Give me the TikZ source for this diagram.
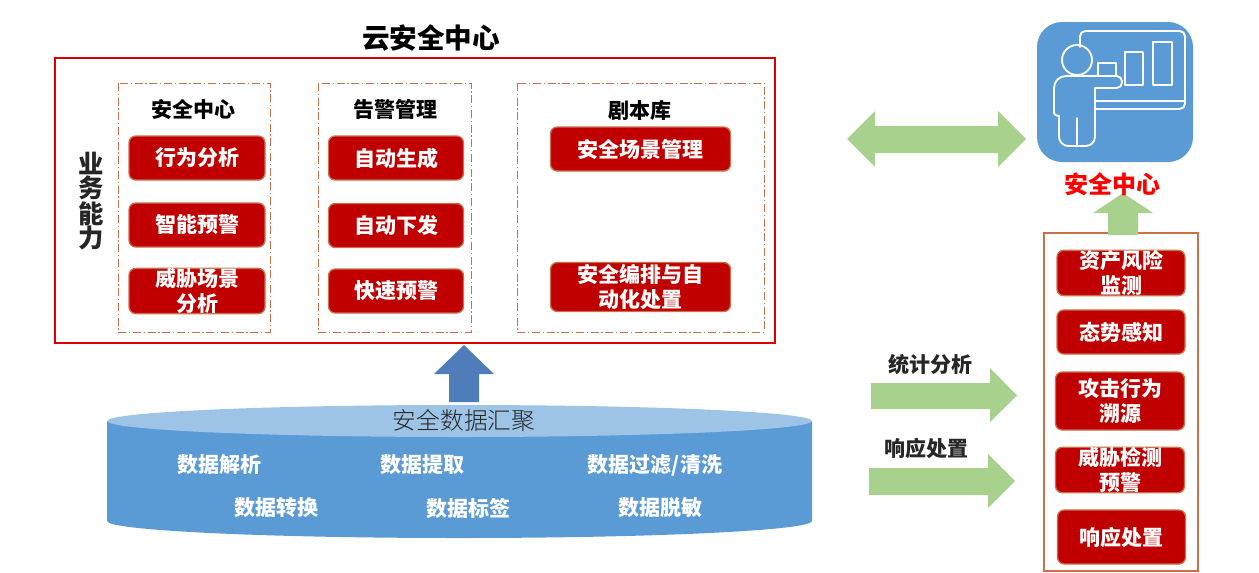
\documentclass[tikz,border=0pt]{standalone}
\usepackage{fontspec}
\setmainfont{Noto Sans CJK SC}
\newfontfamily\cjklight{Noto Sans CJK SC Light}
\definecolor{boxred}{HTML}{C00000}
\definecolor{boxedge}{HTML}{C9714B}
\definecolor{framered}{HTML}{DD0000}
\definecolor{arrowgreen}{HTML}{A9D18E}
\definecolor{cylblue}{HTML}{5B9BD5}
\definecolor{cyltop}{HTML}{9DC3E6}
\definecolor{arrowblue}{HTML}{4F7DBA}
\definecolor{inkdark}{HTML}{262626}
\newcommand{\fs}[1]{\fontsize{#1}{#1}\selectfont}
\tikzset{
  x=0.75pt,y=-0.75pt,
  redbox/.style 2 args={draw=boxedge,line width=1pt,fill=boxred,rounded corners=5pt,
    minimum width=#1*0.75pt,minimum height=#2*0.75pt,inner sep=0pt,outer sep=0pt,
    text=white,font=\fs{15.75}\bfseries,align=center},
  twoline/.style={font=\fontsize{15.75}{18.75}\selectfont\bfseries},
  dashbox/.style={draw=boxedge,line width=0.75pt,dash pattern=on 6pt off 2pt on 1pt off 2pt},
  heading/.style={font=\fs{15.75}\bfseries,text=black,inner sep=0pt},
  celllabel/.style={font=\fs{15.75}\bfseries,text=white,inner sep=0pt},
  sidelabel/.style={font=\fs{15.75}\bfseries,text=inkdark,inner sep=0pt},
  icon/.style={draw=white,line width=1.4pt,line join=round,line cap=round},
}
\begin{document}
\begin{tikzpicture}
\useasboundingbox (0,0) rectangle (1259,572);

% title and main frame
\node[font=\fs{20.7}\bfseries,inner sep=0pt] (title) at (431,38) {云安全中心};
\draw[framered,line width=1.5pt] (55,58) rectangle (775,343);
\node[font=\fontsize{19}{18}\selectfont\bfseries,text=inkdark,inner sep=0pt,align=center] (biz) at (91,201) {业\\务\\能\\力};

% dashed groups
\draw[dashbox] (118,83) rectangle (270,332);
\draw[dashbox] (318,83) rectangle (471,332);
\draw[dashbox] (517,83) rectangle (764,332);
\node[heading] (h1) at (193,110) {安全中心};
\node[heading] (h2) at (395,109) {告警管理};
\node[heading] (h3) at (640,110) {剧本库};

% group 1
\node[redbox={136}{44}] (a1) at (197,158) {行为分析};
\node[redbox={136}{44}] (a2) at (197,225) {智能预警};
\node[redbox={136}{44},twoline] (a3) at (197,291) {威胁场景\\分析};
% group 2
\node[redbox={135}{44}] (b1) at (396,158) {自动生成};
\node[redbox={135}{44}] (b2) at (396,225.5) {自动下发};
\node[redbox={135}{44}] (b3) at (396,291) {快速预警};
% group 3
\node[redbox={180}{44}] (c1) at (640.5,149) {安全场景管理};
\node[redbox={180}{49},twoline] (c2) at (640.5,287) {安全编排与自\\动化处置};

% blue arrow
\fill[arrowblue] (449,402) -- (449,374) -- (434,374) -- (464,345) -- (494,374) -- (479,374) -- (479,402) -- cycle;

% cylinder
\fill[cylblue] (107,421) -- (107,521) arc[start angle=180,end angle=0,x radius=352.5,y radius=17] -- (812,421) -- cycle;
\fill[cyltop] (459.5,421) ellipse[x radius=352.5,y radius=16];
\node[font=\fs{17.8}\cjklight,text=inkdark,inner sep=0pt] (pool) at (464,420) {安全数据汇聚};
\node[celllabel] (d1) at (219,465) {数据解析};
\node[celllabel] (d2) at (422,465) {数据提取};
\node[celllabel] (d3) at (655,465) {数据过滤/清洗};
\node[celllabel] (d4) at (276,508) {数据转换};
\node[celllabel] (d5) at (468,508) {数据标签};
\node[celllabel] (d6) at (660,508) {数据脱敏};

% double arrow
\fill[arrowgreen] (847,139) -- (875,111) -- (875,126) -- (998,126) -- (998,111) -- (1026,139)
  -- (998,167) -- (998,153) -- (875,153) -- (875,167) -- cycle;

% icon
\fill[cylblue,rounded corners=18.75pt] (1037,22) rectangle (1193,162);
\draw[icon,rounded corners=4pt] (1080,47) -- (1080,31) -- (1185,31) -- (1185,109) -- (1095,109);
\draw[icon] (1095,101) -- (1185,101);
\draw[icon] (1125,52) rectangle (1143,85);
\draw[icon] (1153,42) rectangle (1172,85);
\draw[icon] (1098,76) -- (1098,63) -- (1116,63) -- (1116,76);
\draw[icon] (1077,60) circle[radius=15];
\draw[icon,rounded corners=9pt] (1054,113) -- (1054,76) -- (1080,76);
\draw[icon,rounded corners=4pt] (1080,76) -- (1122,76) -- (1122,88) -- (1095,88);
\draw[icon,rounded corners=7pt] (1095,88) -- (1095,146) -- (1059,146) -- (1059,116);
\draw[icon,rounded corners=2pt] (1059,116) -- (1054,115) -- (1054,110);
\draw[icon] (1077,118) -- (1077,146);

% side stack
\fill[arrowgreen] (1108,235) -- (1108,213) -- (1093,213) -- (1123,193) -- (1153,213) -- (1138,213) -- (1138,235) -- cycle;
\node[font=\fs{18}\bfseries,text=red,inner sep=0pt] (sc) at (1112,184) {安全中心};
\draw[boxedge,line width=1.2pt] (1044,233) rectangle (1198,571);
\fill[arrowgreen] (1108,232) rectangle (1138,235);
\node[redbox={128}{44},twoline] (e1) at (1121,273) {资产风险\\监测};
\node[redbox={128}{44}] (e2) at (1121,332) {态势感知};
\node[redbox={129}{58},twoline] (e3) at (1120,401) {攻击行为\\溯源};
\node[redbox={129}{44},twoline] (e4) at (1120,470) {威胁检测\\预警};
\node[redbox={128}{54}] (e5) at (1121.5,537) {响应处置};

% stat arrows
\fill[arrowgreen] (871,383) -- (990,383) -- (990,368) -- (1017,395.5) -- (990,422) -- (990,409) -- (871,409) -- cycle;
\fill[arrowgreen] (869,468) -- (988,468) -- (988,454) -- (1015,481) -- (988,508) -- (988,495) -- (869,495) -- cycle;
\node[sidelabel] (s1) at (930,364) {统计分析};
\node[sidelabel] (s2) at (926,448) {响应处置};
\end{tikzpicture}
\end{document}
